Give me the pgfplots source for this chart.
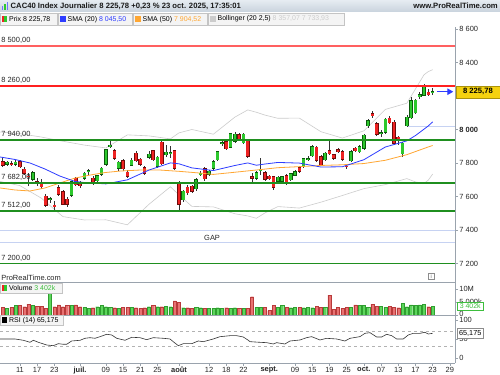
\documentclass[border=0pt]{standalone}
\usepackage{pgfplots}
\usepackage{pgfplotstable}
\pgfplotsset{compat=1.18}
\usepackage{fontspec}
\setmainfont{Liberation Sans}
\usetikzlibrary{arrows.meta}

\definecolor{titletop}{HTML}{E6ECF2}
\definecolor{titlebot}{HTML}{C9D3DD}
\definecolor{boxborder}{HTML}{C4C4C4}
\definecolor{boxfill}{HTML}{F4F4F4}
\definecolor{axgray}{HTML}{9AA3AD}
\definecolor{supgreen}{HTML}{1F8F1F}
\definecolor{resred}{HTML}{FF2020}
\definecolor{respink}{HTML}{FF6060}
\definecolor{gapblue}{HTML}{C6D2F2}
\definecolor{smablue}{HTML}{2E3DFF}
\definecolor{smaorange}{HTML}{FFA733}
\definecolor{bollgray}{HTML}{CCCCCC}
\definecolor{cgreen}{HTML}{2DC82D}
\definecolor{cgreenD}{HTML}{0B5A0B}
\definecolor{cred}{HTML}{EE2222}
\definecolor{credD}{HTML}{6E0B0B}
\definecolor{vgreen}{HTML}{5CD65C}
\definecolor{vgreenD}{HTML}{2F9E2F}
\definecolor{vred}{HTML}{E87272}
\definecolor{vredD}{HTML}{B83A3A}
\definecolor{tagyellow}{HTML}{F5D20F}
\definecolor{volgreen}{HTML}{3DBE3D}

\pgfplotstableread{
k O H L C u V
0 7808 7838 7775 7788 0 2.95
1 7792 7815 7780 7805 1 2.56
2 7796 7812 7780 7792 0 2.95
3 7792 7815 7785 7804 1 3.6
4 7808 7820 7770 7778 0 3.6
5 7762 7775 7728 7738 0 3.2
6 7722 7742 7662 7718 0 4.2
7 7703 7752 7695 7742 1 3.6
8 7688 7712 7662 7684 0 3.3
9 7682 7705 7645 7659 0 3.3
10 7603 7618 7540 7549 0 2.56
11 7582 7600 7560 7587 1 8.3
12 7548 7572 7508 7543 0 3.2
13 7652 7668 7605 7615 0 3.85
14 7629 7640 7548 7555 0 3.2
15 7585 7598 7540 7553 0 3.6
16 7609 7695 7600 7688 1 3.6
17 7709 7718 7660 7669 0 3.85
18 7679 7690 7650 7663 0 3.2
19 7709 7745 7700 7739 1 2.95
20 7750 7762 7728 7754 1 2.56
21 7709 7722 7670 7679 0 2.8
22 7694 7730 7685 7724 1 3.2
23 7734 7775 7725 7768 1 3.6
24 7794 7885 7785 7878 1 3.2
25 7900 7930 7890 7905 1 2.95
26 7872 7885 7820 7828 0 2.8
27 7768 7815 7755 7806 1 2.56
28 7814 7825 7755 7766 0 2.95
29 7745 7760 7710 7720 0 2.95
30 7788 7828 7780 7818 1 2.95
31 7858 7870 7805 7814 0 2.8
32 7822 7832 7785 7792 0 2.56
33 7772 7785 7730 7738 0 2.8
34 7834 7870 7825 7852 1 3.2
35 7872 7880 7810 7818 0 3.6
36 7782 7840 7770 7834 1 3.2
37 7925 7935 7790 7796 0 3.2
38 7848 7910 7835 7864 1 3.3
39 7856 7900 7830 7860 1 3.2
40 7872 7880 7760 7768 0 5.4
41 7680 7690 7520 7555 0 4.87
42 7580 7640 7570 7632 1 2.8
43 7655 7668 7610 7622 0 2.8
44 7660 7670 7620 7630 0 2.56
45 7645 7712 7635 7700 1 2.95
46 7734 7752 7720 7740 1 2.8
47 7765 7775 7695 7705 0 2.56
48 7733 7760 7725 7752 1 2.56
49 7768 7815 7760 7808 1 2.56
50 7818 7872 7810 7866 1 2.8
51 7915 7935 7900 7921 1 2.56
52 7927 7935 7875 7884 0 2.8
53 7894 7982 7888 7976 1 2.56
54 7930 7985 7920 7972 1 2.8
55 7968 7980 7930 7940 0 2.56
56 7920 7980 7912 7972 1 2.56
57 7935 7945 7830 7840 0 2.56
58 7718 7740 7680 7709 0 7.05
59 7709 7752 7700 7742 1 2.95
60 7756 7830 7730 7762 1 2.95
61 7742 7755 7695 7704 0 2.95
62 7722 7730 7698 7705 0 1.7
63 7718 7725 7640 7655 0 3.6
64 7690 7722 7682 7714 1 2.95
65 7690 7725 7680 7718 1 3.6
66 7724 7735 7668 7675 0 2.95
67 7700 7742 7692 7735 1 2.8
68 7728 7758 7720 7748 1 2.95
69 7772 7780 7740 7752 0 2.95
70 7778 7832 7770 7825 1 2.8
71 7822 7840 7810 7826 1 2.95
72 7842 7905 7835 7897 1 2.8
73 7894 7902 7808 7815 0 3.45
74 7838 7845 7780 7788 0 2.95
75 7818 7865 7810 7858 1 2.95
76 7873 7937 7845 7854 0 7.6
77 7848 7855 7815 7828 0 2.3
78 7880 7890 7858 7868 0 2.95
79 7868 7878 7815 7822 0 2.56
80 7782 7795 7765 7778 0 2.95
81 7814 7875 7805 7868 1 2.95
82 7888 7895 7865 7873 0 3.85
83 7867 7905 7858 7897 1 3.6
84 7888 7975 7880 7967 1 3.6
85 8023 8060 8010 8053 1 2.95
86 8093 8110 8070 8081 0 4.2
87 8033 8045 7960 7971 0 3.45
88 7976 8000 7955 7981 1 3.45
89 7983 8070 7975 8061 1 2.95
90 8067 8080 8030 8041 0 3.3
91 8043 8055 7905 7918 0 2.95
92 7953 7962 7910 7934 0 2.8
93 7854 7925 7835 7919 1 4.5
94 8023 8085 8015 8074 1 3.2
95 8069 8195 8060 8173 1 3.85
96 8100 8185 8090 8174 1 3.6
97 8200 8225 8185 8206 1 3.85
98 8206 8270 8198 8258 1 4.2
99 8222 8240 8200 8207 0 3.2
100 8218 8245 8205 8225.78 1 3.402
}\ohlc

\pgfplotstableread{
k v
-0.63 7836
2.86 7821
6.35 7800
9.84 7764
13.3 7722
16.8 7690
19 7683.5
24 7675.3
29 7699.5
34 7757.7
39 7800.7
41 7795.2
44 7770.9
49 7754.9
54 7785.2
57 7800.4
59 7786.7
61 7793.9
64 7803.4
69 7799.5
74 7776.1
79 7777.5
84 7819.6
89 7895.6
94 7932.3
96 7964
98 8002.5
99 8021.7
100 8045.5
}\smaA

\pgfplotstableread{
k v
-0.63 7651
2.86 7639
6.35 7633
9.84 7651
13.3 7681
16.8 7710
20.3 7728
23.8 7743
27.3 7752
31.9 7758
36.6 7758
41.2 7750
45.9 7740
49 7731.9
54 7744.9
59 7758.2
64 7772
69 7778.3
74 7785.3
79 7789.4
84 7796.8
89 7816.3
94 7849.8
99 7896.1
100 7904.5
}\smaB

\pgfplotstableread{
k up lo
-0.63 7985 7690
4 7975 7665
9 7955 7590
14 7930 7480
19 7907 7460
24 7890 7461
29 7968 7431
34 7962 7553
39 7944 7658
41 7980 7610
44 8000 7541
49 7972 7538
54 8074 7497
57 8117 7484
59 8103 7470
61 8086 7502
64 8067 7540
69 8068 7531
74 7987 7566
79 7949 7606
84 7992 7647
89 8120 7671
94 8157 7707
96 8242 7687
98 8327 7678
99 8346 7698
100 8357.07 7733.93
}\boll

\pgfplotstableread{
k r
-0.63 50.4
2.86 50.4
4.79 47
6.35 41.8
7.12 47
8.28 41.8
10.23 34.7
11.77 32.9
12.93 38.1
14.09 36.6
14.88 36.6
16.05 45.2
17.98 47
19.14 52.2
20.3 53.8
21.47 52.2
22.63 56.4
24.19 62.7
25.35 60.8
26.51 52.2
28.44 47
30 54.8
31.93 53.8
33.49 48.6
35.02 53.8
37.35 52.2
38.91 50.4
39.67 43.3
40.84 32.9
42 38.1
43.95 38.1
45.49 45.2
46.65 43.3
48.98 50.4
50.53 56.4
52.86 59
54.42 59
55.95 55.6
57.12 47
57.51 43.4
59.84 41.7
61.4 40.8
62.93 37.3
63.72 40.8
65.65 37.3
66.81 45.1
69.14 47.8
70.7 53.9
71.86 56.5
73.79 47.8
75.35 52.1
77.67 50.4
79.6 45.1
80.77 52.1
83.09 56.5
84.26 65.2
85.42 66.9
86.98 55.6
88.14 55.6
89.3 62.6
90.47 59.1
91.63 50.4
93.16 50.4
94.33 60.8
95.49 65.2
97.05 65.2
98.21 67.8
98.98 63.4
100 65.175
}\rsi

\pgfplotsset{
  upday/.style={restrict expr to domain={\thisrow{u}}{0.5:1.5}},
  downday/.style={restrict expr to domain={\thisrow{u}}{-0.5:0.5}},
  panel/.style={scale only axis, width=455bp, xmin=-0.63, xmax=105.2,
    axis y line*=right, y axis line style={draw=axgray, line width=0.6bp},
    ytick style={draw=axgray, line width=0.5bp}, tick align=outside, major tick length=3bp,
    yticklabel style={font=\fontsize{7.5}{8}\selectfont, text=black!85, inner sep=1.2bp},
    clip mode=individual, /pgf/number format/assume math mode=true},
  body/.style 2 args={draw=none, mark=none, #1, error bars/.cd, y dir=both, y explicit, error mark=none,
    error bar style={draw=#2, line width=2.6bp, solid}},
  bodyedge/.style 2 args={draw=none, mark=none, #1, error bars/.cd, y dir=both, y explicit, error mark=none,
    error bar style={draw=#2, line width=3.6bp, solid}},
  level/.style={color=#1, mark=none, solid},
}
\tikzset{lvl/.style={anchor=south west, inner sep=0.6bp, font=\fontsize{7.5}{8}\selectfont, text=black!85}}

\begin{document}
\begin{tikzpicture}[font=\fontsize{7}{8}\selectfont]
\path[use as bounding box, fill=white] (0bp,0bp) rectangle (500bp,375bp);

% ---------------- price panel ----------------
\begin{axis}[panel, at={(0bp,93bp)}, anchor=south west, height=255bp,
  ymin=7089.6, ymax=8612, axis x line=none,
  ytick={7200,7400,7600,7800,8000,8200,8400,8600},
  yticklabels={7 200,7 400,7 600,7 800,\textbf{8 000},8 200,8 400,8 600}]
% gap lines
\addplot[level=gapblue, line width=0.8bp] coordinates {(-0.63,7400) (105.2,7400)};
\addplot[level=gapblue, line width=0.8bp] coordinates {(-0.63,7326) (105.2,7326)};
\addplot[level=gapblue, line width=0.8bp] coordinates {(94,8021) (105.2,8021)};
% bollinger
\addplot[level=bollgray, line width=0.6bp] table[x=k, y=up] {\boll};
\addplot[level=bollgray, line width=0.6bp] table[x=k, y=lo] {\boll};
% wicks
\addplot[draw=none, mark=none, error bars/.cd, y dir=both, y explicit, error mark=none,
  error bar style={draw=black!80, line width=0.7bp, solid}]
  table[x=k, y expr={(\thisrow{H}+\thisrow{L})/2}, y error expr={(\thisrow{H}-\thisrow{L})/2}] {\ohlc};
% bodies
\addplot[bodyedge={upday}{cgreenD}]
  table[x=k, y expr={(\thisrow{O}+\thisrow{C})/2}, y error expr={abs(\thisrow{C}-\thisrow{O})/2+3}] {\ohlc};
\addplot[body={upday}{cgreen}]
  table[x=k, y expr={(\thisrow{O}+\thisrow{C})/2}, y error expr={abs(\thisrow{C}-\thisrow{O})/2}] {\ohlc};
\addplot[bodyedge={downday}{credD}]
  table[x=k, y expr={(\thisrow{O}+\thisrow{C})/2}, y error expr={abs(\thisrow{C}-\thisrow{O})/2+3}] {\ohlc};
\addplot[body={downday}{cred}]
  table[x=k, y expr={(\thisrow{O}+\thisrow{C})/2}, y error expr={abs(\thisrow{C}-\thisrow{O})/2}] {\ohlc};
% moving averages
\addplot[level=smaorange, line width=0.8bp] table[x=k, y=v] {\smaB};
\addplot[level=smablue, line width=0.8bp] table[x=k, y=v] {\smaA};
% horizontal levels
\addplot[level=respink, line width=1.5bp] coordinates {(-0.63,8500) (105.2,8500)};
\addplot[level=resred, line width=1.3bp] coordinates {(-0.63,8260) (105.2,8260)};
\addplot[level=supgreen, line width=2bp] coordinates {(-0.63,7940) (105.2,7940)};
\addplot[level=supgreen, line width=2bp] coordinates {(-0.63,7682) (105.2,7682)};
\addplot[level=supgreen, line width=2bp] coordinates {(-0.63,7512) (105.2,7512)};
\addplot[level=supgreen, line width=1.8bp] coordinates {(-0.63,7200) (105.2,7200)};
\node[lvl] at (axis cs:-0.5,8508) {8 500,00};
\node[lvl] at (axis cs:-0.5,8268) {8 260,00};
\node[lvl] at (axis cs:-0.5,7950) {7 940,00};
\node[lvl] at (axis cs:-0.5,7692) {7 682,00};
\node[lvl] at (axis cs:-0.5,7522) {7 512,00};
\node[lvl] at (axis cs:-0.5,7208) {7 200,00};
\node[font=\fontsize{7.5}{8}\selectfont, text=black!85] at (axis cs:48.7,7352) {GAP};
\node[anchor=south west, inner sep=0.6bp, font=\fontsize{7.5}{8}\selectfont, text=black!85] at (axis cs:-0.5,7092) {ProRealTime.com};
\draw[smablue, line width=1.1bp, -{Triangle[length=6bp,width=6.5bp]}] (axis cs:101.0,8225.78) -- (axis cs:104.8,8225.78);
\coordinate (ptag) at (axis cs:105.2,8225.78);
\end{axis}

% ---------------- volume panel ----------------
\begin{axis}[panel, at={(0bp,60bp)}, anchor=south west, height=33bp,
  ymin=0, ymax=12.69, axis x line=none,
  ytick={0,5,10}, yticklabels={\raisebox{2.5bp}{0},5 000k,10M}]
\addplot[ybar, bar width=3.1bp, bar shift=0pt, fill=vgreen, draw=vgreenD, line width=0.3bp, upday] table[x=k, y=V] {\ohlc};
\addplot[ybar, bar width=3.1bp, bar shift=0pt, fill=vred, draw=vredD, line width=0.3bp, downday] table[x=k, y=V] {\ohlc};
\coordinate (vtag) at (axis cs:105.2,3.402);
\end{axis}

% ---------------- RSI panel ----------------
\begin{axis}[panel, at={(0bp,12bp)}, anchor=south west, height=48bp,
  ymin=-12.3, ymax=113, axis x line*=bottom,
  x axis line style={draw=axgray, line width=0.6bp},
  xtick style={draw=axgray, line width=0.5bp},
  xtick={4,8,12,18,24,28,32,36,41,48,52,56,62,68,72,76,80,84,88,92,96,100,104},
  xticklabels={11,17,23,\textbf{juil.},09,15,21,25,\textbf{août},12,18,22,\textbf{sept.},09,15,19,25,\textbf{oct.},07,13,17,23,29},
  xticklabel style={font=\fontsize{7.5}{8}\selectfont, text=black!85, inner sep=0.8bp},
  ytick={0,50,100}, yticklabels={0,50,\raisebox{-1bp}{100}}]
\addplot[color=black!30, line width=0.6bp, mark=none, dash pattern=on 3bp off 3bp] coordinates {(-0.63,70) (105.2,70)};
\addplot[color=black!30, line width=0.6bp, mark=none, dash pattern=on 3bp off 3bp] coordinates {(-0.63,30) (105.2,30)};
\addplot[level=black!80, line width=0.6bp] table[x=k, y=r] {\rsi};
\coordinate (rtag) at (axis cs:105.2,65.175);
\end{axis}

% separators
\draw[axgray, line width=0.6bp] (0bp,93bp) -- (455bp,93bp);
\draw[axgray, line width=0.6bp] (0bp,60bp) -- (455bp,60bp);

% tags on the right scale
\node[anchor=west, fill=tagyellow, draw=tagyellow!70!black, line width=0.3bp, inner sep=0pt,
  minimum width=44bp, minimum height=12bp, font=\bfseries\fontsize{7.7}{8}\selectfont] at ([xshift=0.8bp]ptag) {8 225,78};
\node[anchor=west, fill=white, draw=volgreen, line width=0.5bp, text=volgreen, inner sep=0pt,
  minimum width=26bp, minimum height=8bp, font=\fontsize{7}{8}\selectfont] at ([xshift=2bp]vtag) {3 402k};
\node[anchor=west, fill=white, draw=black!45, line width=0.5bp, text=black, inner sep=0pt,
  minimum width=26bp, minimum height=9.5bp, font=\fontsize{7.3}{8}\selectfont] at ([xshift=2bp]rtag) {65,175};

% info icon
\draw[black!45, fill=white, line width=0.4bp] (428bp,95.5bp) rectangle (434.5bp,102bp);
\node[font=\fontsize{5.5}{6}\selectfont, text=black!55, inner sep=0pt] at (431.25bp,98.75bp) {i};

% title bar
\shade[top color=titletop, bottom color=titlebot] (0bp,363bp) rectangle (500bp,375bp);
\fill[smablue!70] (2bp,365bp) rectangle (3.2bp,369bp);
\fill[cgreen] (4.4bp,365bp) rectangle (5.6bp,371bp);
\fill[smablue!70] (6.8bp,365bp) rectangle (8bp,373bp);
\node[anchor=west, inner sep=0pt, font=\bfseries\fontsize{7.7}{8}\selectfont, text=black!90] at (10.5bp,369bp)
  {CAC40 Index Journalier 8 225,78 +0,23 \% 23 oct. 2025, 17:35:01};
\node[anchor=east, inner sep=0pt, font=\bfseries\fontsize{7.7}{8}\selectfont, text=black!90] at (498bp,369bp)
  {www.ProRealTime.com};

% legend row
\draw[boxborder, fill=boxfill, line width=0.4bp] (0.3bp,350bp) rectangle (57bp,361.5bp);
\fill[cred] (1.5bp,352.5bp) rectangle (4.2bp,359bp);
\fill[cgreen] (4.2bp,352.5bp) rectangle (7bp,359bp);
\node[anchor=west, inner sep=0pt] at (9bp,355.8bp) {Prix 8 225,78};
\draw[boxborder, fill=boxfill, line width=0.4bp] (58bp,350bp) rectangle (132bp,361.5bp);
\fill[smablue] (59.5bp,352.5bp) rectangle (65.5bp,359bp);
\node[anchor=west, inner sep=0pt] at (67.5bp,355.8bp) {SMA (20) \textcolor{smablue}{8 045,50}};
\draw[boxborder, fill=boxfill, line width=0.4bp] (133bp,350bp) rectangle (207bp,361.5bp);
\fill[smaorange] (134.5bp,352.5bp) rectangle (140.5bp,359bp);
\node[anchor=west, inner sep=0pt] at (142.5bp,355.8bp) {SMA (50) \textcolor{smaorange}{7 904,52}};
\draw[boxborder, fill=boxfill, line width=0.4bp] (208bp,350bp) rectangle (344bp,361.5bp);
\fill[bollgray] (209.5bp,352.5bp) rectangle (215.5bp,359bp);
\node[anchor=west, inner sep=0pt] at (217.5bp,355.8bp) {Bollinger (20 2,5) \textcolor{bollgray}{8 357,07 7 733,93}};

% volume label box
\draw[boxborder, fill=boxfill, line width=0.4bp] (0.3bp,82bp) rectangle (62bp,91.5bp);
\fill[cred] (1.5bp,83.5bp) rectangle (4.2bp,90bp);
\fill[cgreen] (4.2bp,83.5bp) rectangle (7bp,90bp);
\node[anchor=west, inner sep=0pt] at (9bp,86.8bp) {Volume \textcolor{volgreen}{3 402k}};

% RSI label box
\draw[boxborder, fill=boxfill, line width=0.4bp] (0.3bp,50bp) rectangle (63bp,59.5bp);
\fill[black] (1.8bp,51.8bp) rectangle (7bp,57.8bp);
\node[anchor=west, inner sep=0pt] at (9bp,54.8bp) {RSI (14) 65,175};
\end{tikzpicture}
\end{document}
